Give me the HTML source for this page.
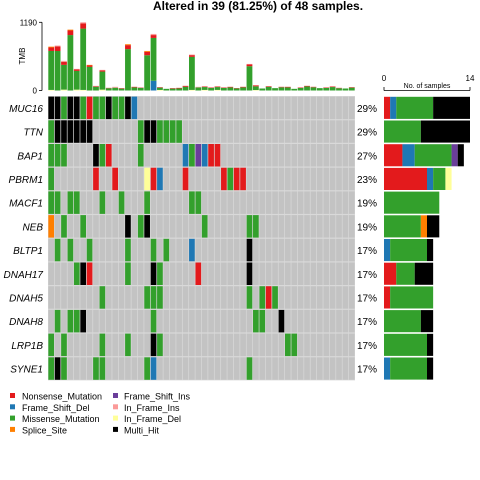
<!DOCTYPE html>
<html><head><meta charset="utf-8"><style>
html,body{margin:0;padding:0;background:#fff;}
svg{display:block;font-family:"Liberation Sans",sans-serif;}
</style></head><body>
<svg id="c" width="480" height="480" xmlns="http://www.w3.org/2000/svg">
<text x="258" y="10" text-anchor="middle" font-size="12" font-weight="bold">Altered in 39 (81.25%) of 48 samples.</text>
</svg>
<script>
const genes=["MUC16","TTN","BAP1","PBRM1","MACF1","NEB","BLTP1","DNAH17","DNAH5","DNAH8","LRP1B","SYNE1"];
const pcts=["29%","29%","27%","23%","19%","19%","17%","17%","17%","17%","17%","17%"];
// codes: N=Nonsense, D=Frame_Shift_Del, M=Missense, S=Splice_Site, I=Frame_Shift_Ins, F=In_Frame_Ins, E=In_Frame_Del, H=Multi_Hit
const muts=[
 {0:"H",1:"H",2:"M",3:"H",4:"H",5:"M",6:"N",7:"M",8:"M",9:"H",10:"M",11:"M",12:"H",13:"D"},
 {0:"M",1:"H",2:"H",3:"H",4:"H",5:"H",6:"H",14:"M",15:"H",16:"H",17:"M",18:"M",19:"M",20:"M"},
 {0:"M",1:"M",2:"M",7:"H",8:"M",9:"N",14:"M",21:"D",22:"M",23:"I",24:"D",25:"N",26:"N"},
 {0:"M",7:"N",10:"N",15:"E",16:"N",17:"D",21:"N",27:"N",28:"M",29:"N",30:"N"},
 {0:"M",1:"M",3:"M",4:"M",8:"M",11:"M",15:"M",22:"M",23:"M"},
 {0:"S",2:"M",5:"M",12:"H",14:"M",15:"H",24:"M",31:"M",32:"M"},
 {1:"M",3:"M",6:"M",12:"M",16:"M",18:"M",22:"D",31:"H"},
 {4:"M",5:"H",6:"N",12:"M",16:"H",17:"M",23:"N",31:"H"},
 {8:"M",15:"M",16:"M",17:"M",31:"M",33:"M",34:"N",35:"M"},
 {1:"M",3:"M",4:"M",5:"H",16:"M",32:"M",33:"M",36:"H"},
 {0:"M",2:"M",8:"M",12:"M",16:"H",17:"M",37:"M",38:"M"},
 {0:"M",1:"H",2:"M",7:"M",8:"M",15:"M",16:"D",31:"M"}
];
const tmbTotal=[765,784,517,1062,377,1190,447,81,360,46,64,41,807,64,52,690,987,58,29,41,46,81,627,64,70,52,70,52,64,41,64,464,93,35,75,41,64,64,29,52,81,64,41,52,70,46,35,58];
const tmbNonsense=[60,80,50,80,25,90,25,10,20,6,0,8,70,10,6,60,50,8,0,8,10,15,30,0,10,8,10,8,10,6,10,30,15,0,10,0,8,10,0,8,10,8,0,8,10,6,0,8];
const tmbSplice=[15,15,20,15,10,20,10,5,10,0,15,0,15,0,0,15,20,0,0,0,0,0,10,10,0,0,0,0,0,0,0,10,5,0,0,0,0,0,0,0,0,0,0,0,0,0,0,0];
const tmbOther=[10,0,15,0,15,10,0,0,15,0,0,0,0,0,0,0,170,10,0,0,0,0,10,0,10,0,10,0,0,0,0,0,8,0,0,0,0,0,0,0,0,0,0,0,0,0,0,0];
const tmbMax=1190, nSamples=48, barMax=14;
const cols={N:"#E31A1C",D:"#1F78B4",M:"#33A02C",S:"#FF7F00",I:"#6A3D9A",F:"#FB9A99",E:"#FFFF99",H:"#000000"};
const order=["N","D","M","S","I","F","E","H"];
const legendLabels={N:"Nonsense_Mutation",D:"Frame_Shift_Del",M:"Missense_Mutation",S:"Splice_Site",I:"Frame_Shift_Ins",F:"In_Frame_Ins",E:"In_Frame_Del",H:"Multi_Hit"};
const svg=document.getElementById('c'),NS="http://www.w3.org/2000/svg";
function el(t,a,p){const e=document.createElementNS(NS,t);for(const k in a)e.setAttribute(k,a[k]);(p||svg).appendChild(e);return e;}
const gx0=48,gx1=355,gy0=96,rowH=23.7;
const colW=(gx1-gx0)/nSamples;
const xS=i=>gx0+i*colW, yR=r=>gy0+r*rowH;
const tY0=90.5,tY1=22.3;
const yT=v=>tY0-(v/tmbMax)*(tY0-tY1);
const bx0=384,bx1=470;
const xB=v=>bx0+(v/barMax)*(bx1-bx0);
// TMB axis
let a=el('line',{x1:42,y1:tY1,x2:42,y2:tY0,stroke:"#000","stroke-width":0.8});

[[0,"0"],[tmbMax,"1190"]].forEach(([v,l])=>{
 el('line',{x1:39,y1:yT(v),x2:42,y2:yT(v),stroke:"#000","stroke-width":0.8});
 const t=el('text',{x:37,y:yT(v)+3,"text-anchor":"end","font-size":8});t.textContent=l;
 
});
let tl=el('text',{x:25,y:56,"text-anchor":"middle","font-size":8,transform:"rotate(-90 25 56)"});tl.textContent="TMB";

// TMB bars
for(let i=0;i<nSamples;i++){
 const tot=tmbTotal[i],oth=tmbOther[i],sp=tmbSplice[i],nn=tmbNonsense[i];
 const green=Math.max(0,tot-oth-sp-nn);
 const segs=[[oth,i==16?"#1F78B4":"#FFFF99"],[green,cols.M],[nn,cols.N],[sp,i%3==0?cols.S:"#FB9A99"]];
 let acc=0;
 segs.forEach(([v,c])=>{if(v<=0)return;
  const r=el('rect',{x:xS(i)+0.3,y:yT(acc+v),width:colW-0.6,height:yT(acc)-yT(acc+v),fill:c});
  
  acc+=v;});
}
// grid
el('rect',{x:gx0,y:gy0,width:gx1-gx0,height:rowH*12,fill:"#d9d9d9"});
genes.forEach((g,r)=>{
 for(let i=0;i<nSamples;i++){
  const c=muts[r][i];
  const cell=el('rect',{x:xS(i)+0.35,y:yR(r)+0.6,width:colW-0.7,height:rowH-1.2,fill:c?cols[c]:"#C3C3C3"});
  
 }
 const t=el('text',{x:43,y:yR(r)+rowH/2+4,"text-anchor":"end","font-size":10,"font-style":"italic"});t.textContent=g;
 
 const p=el('text',{x:357,y:yR(r)+rowH/2+4,"font-size":10});p.textContent=pcts[r];
 
 let acc=0;
 order.forEach(k=>{const n=Object.values(muts[r]).filter(v=>v===k).length;if(!n)return;
  const b=el('rect',{x:xB(acc),y:yR(r)+0.8,width:xB(acc+n)-xB(acc),height:rowH-1.6,fill:cols[k]});
  
  acc+=n;});
});
// right axis
el('line',{x1:bx0,y1:90.5,x2:bx1,y2:90.5,stroke:"#000","stroke-width":0.8});
[[0,"0"],[barMax,"14"]].forEach(([v,l])=>{
 el('line',{x1:xB(v),y1:87,x2:xB(v),y2:90.5,stroke:"#000","stroke-width":0.8});
 const t=el('text',{x:xB(v),y:81,"text-anchor":"middle","font-size":8});t.textContent=l;
 
});
let st=el('text',{x:427,y:88,"text-anchor":"middle","font-size":7});st.textContent="No. of samples";

// legend
const legL=["N","D","M","S"],legR=["I","F","E","H"];
[[legL,10,22],[legR,113,124]].forEach(([ks,bx,tx])=>{
 ks.forEach((k,j)=>{const y=396+j*11.3;
  const b=el('rect',{x:bx,y:y-3,width:5,height:5,fill:cols[k]});
  
  const t=el('text',{x:tx,y:y+3.5,"font-size":9});t.textContent=legendLabels[k];
  
 });
});
</script>
</body></html>
